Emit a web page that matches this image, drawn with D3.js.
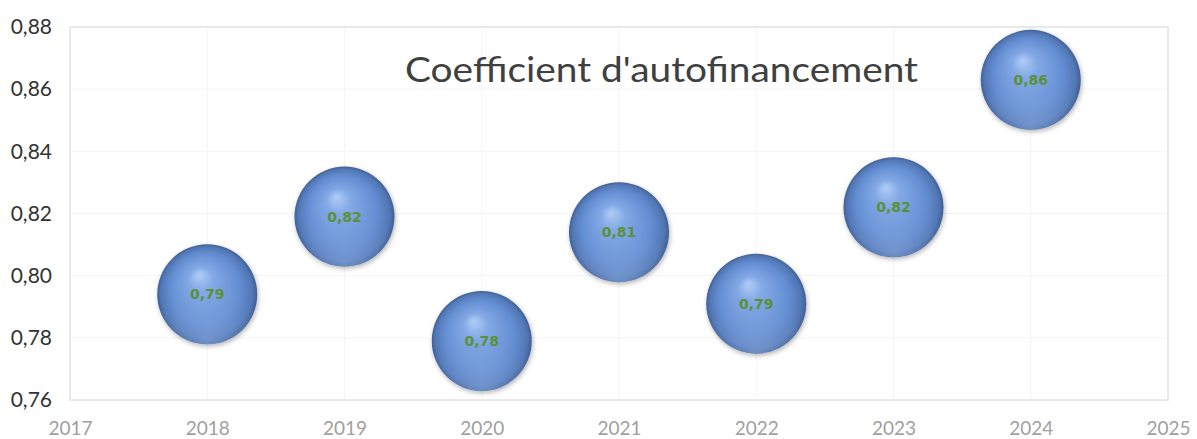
<!DOCTYPE html>
<html>
<head>
<meta charset="utf-8">
<script src="https://cdn.jsdelivr.net/npm/d3@7"></script>
<style>
body { margin: 0; background: #fff; }
svg { display: block; }
</style>
</head>
<body>
<svg id="chart" width="1197" height="439"></svg>
<script>
// data
var years = [2018, 2019, 2020, 2021, 2022, 2023, 2024]
var coef = [0.794, 0.819, 0.779, 0.814, 0.791, 0.822, 0.863]
var xTicks = [2017, 2018, 2019, 2020, 2021, 2022, 2023, 2024, 2025]
var yTicks = [0.76, 0.78, 0.80, 0.82, 0.84, 0.86, 0.88]
var title = "Coefficient d'autofinancement"

var svg = d3.select("#chart")
// note: "top" is a reserved window prop, so plot box names get a prefix
var plotL = 70, plotR = 1168, plotT = 27, plotB = 400

var x = d3.scaleLinear().domain([2017, 2025]).range([plotL, plotR])
var y = d3.scaleLinear().domain([0.76, 0.88]).range([plotB, plotT])
var fmt = function (v) { return d3.format(".2f")(v).replace(".", ",") }

// sphere look
var defs = svg.append("defs")
var g1 = defs.append("radialGradient").attr("id", "ball")
    .attr("cx", "50%").attr("cy", "50%").attr("r", "50%")
    .attr("fx", "42%").attr("fy", "30%")
g1.append("stop").attr("offset", "0%").attr("stop-color", "#b0cdf5")
g1.append("stop").attr("offset", "25%").attr("stop-color", "#82a9e6")
g1.append("stop").attr("offset", "70%").attr("stop-color", "#638dd2")
g1.append("stop").attr("offset", "92%").attr("stop-color", "#5176b4")
g1.append("stop").attr("offset", "100%").attr("stop-color", "#3f5f94")
var g2 = defs.append("radialGradient").attr("id", "rim")
    .attr("cx", "50%").attr("cy", "100%").attr("r", "60%")
g2.append("stop").attr("offset", "0%").attr("stop-color", "#8fb0e6").attr("stop-opacity", 0.55)
g2.append("stop").attr("offset", "100%").attr("stop-color", "#8fb0e6").attr("stop-opacity", 0)
var sh = defs.append("filter").attr("id", "shadow").attr("x", "-30%").attr("y", "-30%").attr("width", "160%").attr("height", "160%")
sh.append("feGaussianBlur").attr("in", "SourceAlpha").attr("stdDeviation", 2.5)
sh.append("feOffset").attr("dx", 1).attr("dy", 2).attr("result", "b")
sh.append("feComponentTransfer").append("feFuncA").attr("type", "linear").attr("slope", 0.3)
var m = sh.append("feMerge")
m.append("feMergeNode")
m.append("feMergeNode").attr("in", "SourceGraphic")

// grid
svg.append("g").selectAll("line.h").data(yTicks).enter().append("line")
    .attr("x1", plotL).attr("x2", plotR).attr("y1", function (d) { return y(d) }).attr("y2", function (d) { return y(d) })
    .attr("stroke", "#f4f4f4").attr("stroke-width", 1)
svg.append("g").selectAll("line.v").data(xTicks).enter().append("line")
    .attr("x1", function (d) { return x(d) }).attr("x2", function (d) { return x(d) }).attr("y1", plotT).attr("y2", plotB)
    .attr("stroke", "#f5f5f5").attr("stroke-width", 1)
svg.append("rect").attr("x", plotL).attr("y", plotT).attr("width", plotR - plotL).attr("height", plotB - plotT)
    .attr("fill", "none").attr("stroke", "#e4e4e4").attr("stroke-width", 1.5)

// axes
var yAxis = d3.axisLeft(y).tickValues(yTicks).tickFormat(fmt).tickSize(0).tickPadding(18)
var ya = svg.append("g").attr("transform", "translate(" + plotL + ",0)").call(yAxis)
ya.select(".domain").remove()
ya.selectAll("text").attr("font-family", "Lato, 'Open Sans', sans-serif").attr("font-size", "21px").attr("fill", "#333")

var xAxis = d3.axisBottom(x).tickValues(xTicks).tickFormat(d3.format("d")).tickSize(0).tickPadding(22)
var xa = svg.append("g").attr("transform", "translate(0," + plotB + ")").call(xAxis)
xa.select(".domain").remove()
xa.selectAll("text").attr("font-family", "Lato, 'Open Sans', sans-serif").attr("font-size", "19px").attr("fill", "#a0a0a0")

// title
svg.append("text").text(title)
    .attr("x", 405).attr("y", 82)
    .attr("textLength", 513).attr("lengthAdjust", "spacingAndGlyphs")
    .attr("font-family", "Lato, 'Open Sans', sans-serif").attr("font-size", "35px").attr("fill", "#404040")

// bubbles
var pts = years.map(function (yr, i) { return { yr: yr, v: coef[i] } })
var b = svg.append("g").selectAll("g").data(pts).enter().append("g")
    .attr("transform", function (d) { return "translate(" + x(d.yr) + "," + y(d.v) + ")" })
b.append("circle").attr("r", 50).attr("fill", "url(#ball)").attr("filter", "url(#shadow)")
b.append("circle").attr("r", 50).attr("fill", "url(#rim)")
b.append("text").text(function (d) { return fmt(d.v) })
    .attr("text-anchor", "middle").attr("dy", "0.35em")
    .attr("font-family", "'DejaVu Sans', sans-serif").attr("font-weight", "bold").attr("font-size", "14px")
    .attr("fill", "#5a9138")
</script>
</body>
</html>
